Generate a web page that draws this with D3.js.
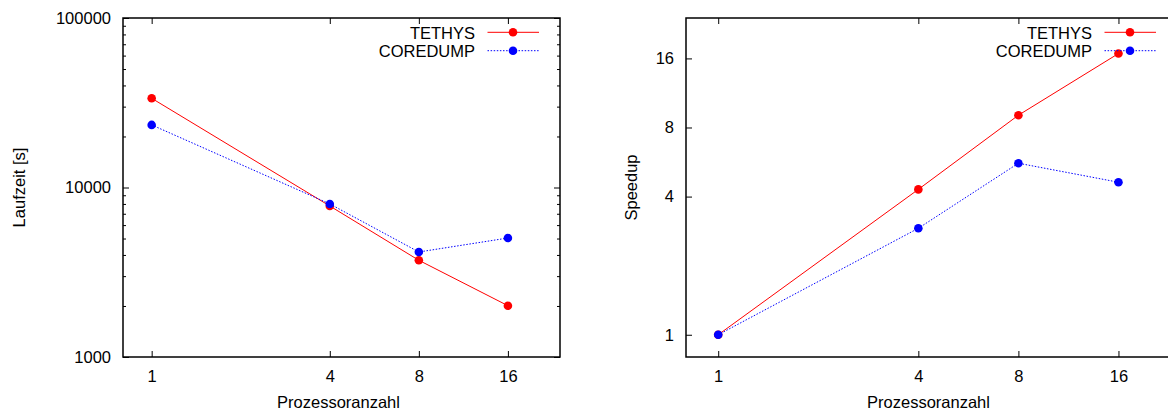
<!DOCTYPE html>
<html>
<head>
<meta charset="utf-8">
<script src="https://cdn.jsdelivr.net/npm/d3@7"></script>
<style>
  html, body { margin: 0; padding: 0; background: #fff; }
  svg { display: block; }
  text { font-family: "Liberation Sans", Arial, Helvetica, sans-serif; fill: #000; }
</style>
</head>
<body>
<svg id="chart" width="1168" height="412"></svg>
<script>
// ---- data ----
const processors = [1, 4, 8, 16];
const xTickValues = [1, 4, 8, 16];
const seriesNames = ["TETHYS", "COREDUMP"];
const seriesColors = ["#ff0000", "#0000ff"];
const tethysTime = [33600, 7780, 3720, 2008];
const coredumpTime = [23400, 8000, 4165, 5035];
const tethysSpeedup = [1, 4.30, 9.05, 16.8];
const coredumpSpeedup = [1, 2.91, 5.59, 4.62];
const timeTicks = [1000, 10000, 100000];
const speedupTicks = [1, 4, 8, 16];
const xTitle = "Prozessoranzahl";
const timeTitle = "Laufzeit [s]";
const speedupTitle = "Speedup";

const svg = d3.select("#chart");
const FONT = 16.5;

function drawPanel(cfg) {
  const { left, right, top, bottom } = cfg.frame;
  const g = svg.append("g");
  const x = d3.scaleLog().base(2).domain([0.8, 24]).range([left, right]);
  const y = cfg.yScale.range([bottom, top]);

  // y major ticks (left, inward)
  const yAxisL = d3.axisLeft(y).tickValues(cfg.yTicks).tickSize(-6).tickPadding(12)
    .tickFormat(d => String(d));
  const gyl = g.append("g").attr("transform", `translate(${left},0)`).call(yAxisL);
  // y major ticks mirrored (right)
  const yAxisR = d3.axisRight(y).tickValues(cfg.yTicks).tickSize(-6).tickFormat("");
  const gyr = g.append("g").attr("transform", `translate(${right},0)`).call(yAxisR);
  // minor y ticks
  if (cfg.yMinor && cfg.yMinor.length) {
    g.append("g").attr("transform", `translate(${left},0)`)
      .call(d3.axisLeft(y).tickValues(cfg.yMinor).tickSize(-3).tickFormat(""));
    g.append("g").attr("transform", `translate(${right},0)`)
      .call(d3.axisRight(y).tickValues(cfg.yMinor).tickSize(-3).tickFormat(""));
  }
  // x ticks bottom and top (inward)
  const gxb = g.append("g").attr("transform", `translate(0,${bottom})`)
    .call(d3.axisBottom(x).tickValues(xTickValues).tickSize(-6).tickPadding(13).tickFormat(d => String(d)));
  const gxt = g.append("g").attr("transform", `translate(0,${top})`)
    .call(d3.axisTop(x).tickValues(xTickValues).tickSize(-6).tickFormat(""));

  g.selectAll(".domain").remove();
  g.selectAll(".tick line").attr("stroke", "#000").attr("stroke-width", 1);
  g.selectAll(".tick text").attr("font-size", FONT).attr("fill", "#000")
    .style("font-family", '"Liberation Sans", Arial, sans-serif');

  // frame
  g.append("rect").attr("x", left).attr("y", top)
    .attr("width", right - left).attr("height", bottom - top)
    .attr("fill", "none").attr("stroke", "#000").attr("stroke-width", 1.5);

  // axis titles
  g.append("text").attr("x", (left + right) / 2 - 3).attr("y", 407.5)
    .attr("text-anchor", "middle").attr("font-size", FONT).text(xTitle);
  g.append("text")
    .attr("transform", `translate(${cfg.yTitleX},${(top + bottom) / 2}) rotate(-90)`)
    .attr("text-anchor", "middle").attr("font-size", FONT).text(cfg.yTitle);

  // series
  const clip = "clip-" + cfg.id;
  svg.append("clipPath").attr("id", clip).append("rect")
    .attr("x", left).attr("y", top).attr("width", right - left).attr("height", bottom - top);
  const line = d3.line().x(d => x(d[0])).y(d => y(d[1]));
  cfg.series.forEach((vals, i) => {
    const pts = processors.map((p, j) => [p, vals[j]]);
    const sg = g.append("g");
    sg.append("path").datum(pts).attr("d", line).attr("fill", "none")
      .attr("stroke", seriesColors[i]).attr("stroke-width", 1)
      .attr("stroke-dasharray", i === 1 ? "1.5,1.6" : null);
    sg.selectAll("circle").data(pts).enter().append("circle")
      .attr("cx", d => x(d[0])).attr("cy", d => y(d[1])).attr("r", 4.3)
      .attr("fill", seriesColors[i]);
  });

  // legend
  seriesNames.forEach((name, i) => {
    const ly = 32.3 + i * 18.4;
    g.append("text").attr("x", right - 85).attr("y", ly + 6.3)
      .attr("text-anchor", "end").attr("font-size", FONT).text(name);
    g.append("line").attr("x1", right - 72.5).attr("x2", right - 21)
      .attr("y1", ly).attr("y2", ly).attr("stroke", seriesColors[i]).attr("stroke-width", 1)
      .attr("stroke-dasharray", i === 1 ? "1.5,1.6" : null);
    g.append("circle").attr("cx", right - 47).attr("cy", ly).attr("r", 4.3)
      .attr("fill", seriesColors[i]);
  });
}

const timeMinor = [];
[1000, 10000].forEach(dec => { for (let k = 2; k <= 9; k++) timeMinor.push(dec * k); });

drawPanel({
  id: "time",
  frame: { left: 123, right: 560, top: 18, bottom: 357 },
  yScale: d3.scaleLog().domain([1000, 100000]),
  yTicks: timeTicks,
  yMinor: timeMinor,
  yTitle: timeTitle,
  yTitleX: 25,
  series: [tethysTime, coredumpTime]
});

drawPanel({
  id: "speedup",
  frame: { left: 686, right: 1177, top: 18, bottom: 357 },
  yScale: d3.scaleLog().base(2).domain([0.8, 24]),
  yTicks: speedupTicks,
  yMinor: [],
  yTitle: speedupTitle,
  yTitleX: 637,
  series: [tethysSpeedup, coredumpSpeedup]
});
</script>
</body>
</html>
